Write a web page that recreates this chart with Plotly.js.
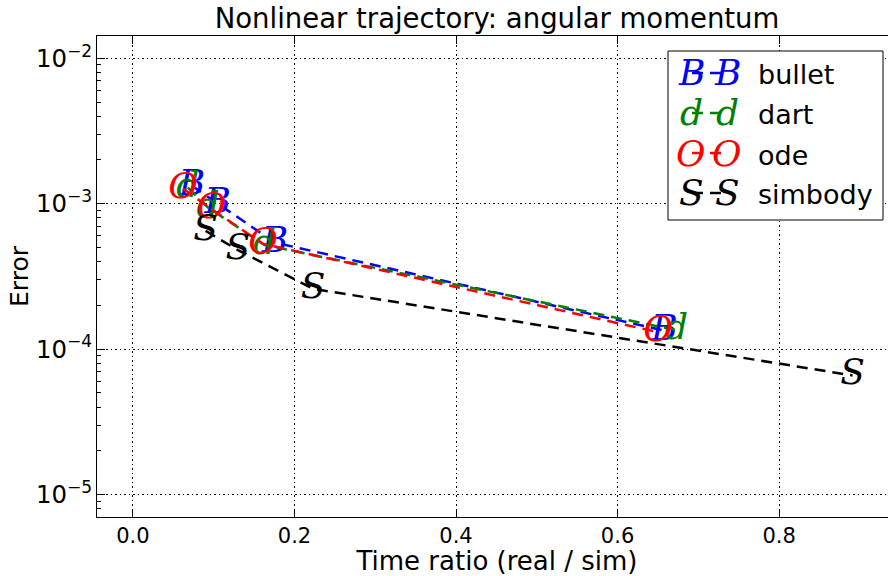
<!DOCTYPE html>
<html><head><meta charset="utf-8">
<script src="https://cdn.plot.ly/plotly-3.0.1.min.js"></script>
<style>html,body{margin:0;padding:0;background:#fff;overflow:hidden;width:888px;height:576px}#chart{width:897px;height:576px}</style>
</head><body><div id="chart"></div>
<script>
// ---- data ----
const seriesNames   = ['bullet', 'dart', 'ode', 'simbody'];
const seriesMarkers = ['B', 'd', 'O', 'S'];
const seriesColors  = ['#0000ff', '#008000', '#ff0000', '#000000'];

const timeBullet  = [0.073, 0.105, 0.176, 0.658];
const errBullet   = [1.33e-3, 1.00e-3, 5.4e-4, 1.34e-4];
const timeDart    = [0.068, 0.093, 0.163, 0.673];
const errDart     = [1.29e-3, 9.4e-4, 5.2e-4, 1.35e-4];
const timeOde     = [0.062, 0.097, 0.161, 0.650];
const errOde      = [1.27e-3, 9.2e-4, 5.3e-4, 1.31e-4];
const timeSimbody = [0.090, 0.130, 0.223, 0.891];
const errSimbody  = [6.5e-4, 4.8e-4, 2.6e-4, 6.6e-5];

const xTickVals  = [0.0, 0.2, 0.4, 0.6, 0.8];
const xTickText  = ['0.0', '0.2', '0.4', '0.6', '0.8'];

const titleText = 'Nonlinear trajectory: angular momentum';
const xTitle = 'Time ratio (real / sim)';
const yTitle = 'Error';

const xs = [timeBullet, timeDart, timeOde, timeSimbody];
const ys = [errBullet, errDart, errOde, errSimbody];

// ---- layout helpers (figure is 897 wide, page shows 888 px of it) ----
const W = 897, H = 576;
const L = 97, R = 897, T = 36, B = 517;
const px = x => (x - L) / (R - L);
const py = y => (B - y) / (B - T);
const markerFont = c => ({family: 'DejaVu Serif', size: 36, color: c, style: 'italic'});

const traces = seriesNames.map((name, i) => ({
  type: 'scatter',
  mode: 'lines+text',
  name: name,
  x: xs[i],
  y: ys[i],
  text: xs[i].map(() => seriesMarkers[i]),
  textposition: 'middle center',
  textfont: markerFont(seriesColors[i]),
  line: {color: seriesColors[i], width: 2.5, dash: '11px,7px'},
  cliponaxis: false,
  showlegend: false,
  hoverinfo: 'x+y+name'
}));

// manual legend (matplotlib-style)
const shapes = [{
  type: 'rect', xref: 'paper', yref: 'paper', layer: 'above',
  x0: px(668), x1: px(883), y0: py(220), y1: py(51),
  line: {color: '#000', width: 1}, fillcolor: '#ffffff'
}];
const annotations = [];
seriesNames.forEach((name, i) => {
  const yc = 73 + 40 * i;
  shapes.push({
    type: 'line', xref: 'paper', yref: 'paper', layer: 'above',
    x0: px(692), x1: px(728), y0: py(yc), y1: py(yc),
    line: {color: seriesColors[i], width: 2.5, dash: '11px,7px'}
  });
  [691, 727].forEach(xc => annotations.push({
    xref: 'paper', yref: 'paper', x: px(xc), y: py(yc),
    xanchor: 'center', yanchor: 'middle', showarrow: false,
    text: seriesMarkers[i],
    font: markerFont(seriesColors[i])
  }));
  annotations.push({
    xref: 'paper', yref: 'paper', x: px(756), y: py(yc + 2),
    xanchor: 'left', yanchor: 'middle', showarrow: false,
    text: name,
    font: {family: 'DejaVu Sans', size: 27, color: '#000'}
  });
});

const layout = {
  width: W, height: H,
  paper_bgcolor: '#fff', plot_bgcolor: '#fff',
  margin: {l: L, r: W - R, t: T, b: H - B, pad: 0},
  font: {family: 'DejaVu Sans', color: '#000'},
  title: {
    text: titleText, font: {family: 'DejaVu Sans', size: 27.5, color: '#000'},
    x: 0.5, xanchor: 'center', xref: 'paper',
    y: 1 - 18 / H, yanchor: 'middle', yref: 'container'
  },
  xaxis: {
    range: [-0.0445, 0.946],
    tickvals: xTickVals, ticktext: xTickText,
    ticks: 'inside', ticklen: 8, tickwidth: 1, tickcolor: '#000',
    showline: true, linecolor: '#000', linewidth: 1, mirror: 'ticks',
    showgrid: true, gridcolor: '#000', gridwidth: 1, griddash: '1.5px,3px',
    zeroline: false,
    tickfont: {family: 'DejaVu Sans', size: 21, color: '#000'},
    title: {text: xTitle, font: {family: 'DejaVu Sans', size: 26, color: '#000'}, standoff: 6}
  },
  yaxis: {
    type: 'log',
    range: [-5.154, -1.847],
    dtick: 1, exponentformat: 'power',
    ticks: 'inside', ticklen: 8, tickwidth: 1, tickcolor: '#000',
    minor: {dtick: 'D1', ticks: 'inside', ticklen: 4, tickcolor: '#000', showgrid: false},
    showline: true, linecolor: '#000', linewidth: 1, mirror: 'ticks',
    showgrid: true, gridcolor: '#000', gridwidth: 1, griddash: '1.5px,3px',
    zeroline: false,
    tickfont: {family: 'DejaVu Sans', size: 19.5, color: '#000'},
    title: {text: yTitle, font: {family: 'DejaVu Sans', size: 25, color: '#000'}, standoff: 0}
  },
  shapes: shapes,
  annotations: annotations,
  showlegend: false
};

Plotly.newPlot('chart', traces, layout, {displayModeBar: false, staticPlot: true});
</script>
</body></html>
